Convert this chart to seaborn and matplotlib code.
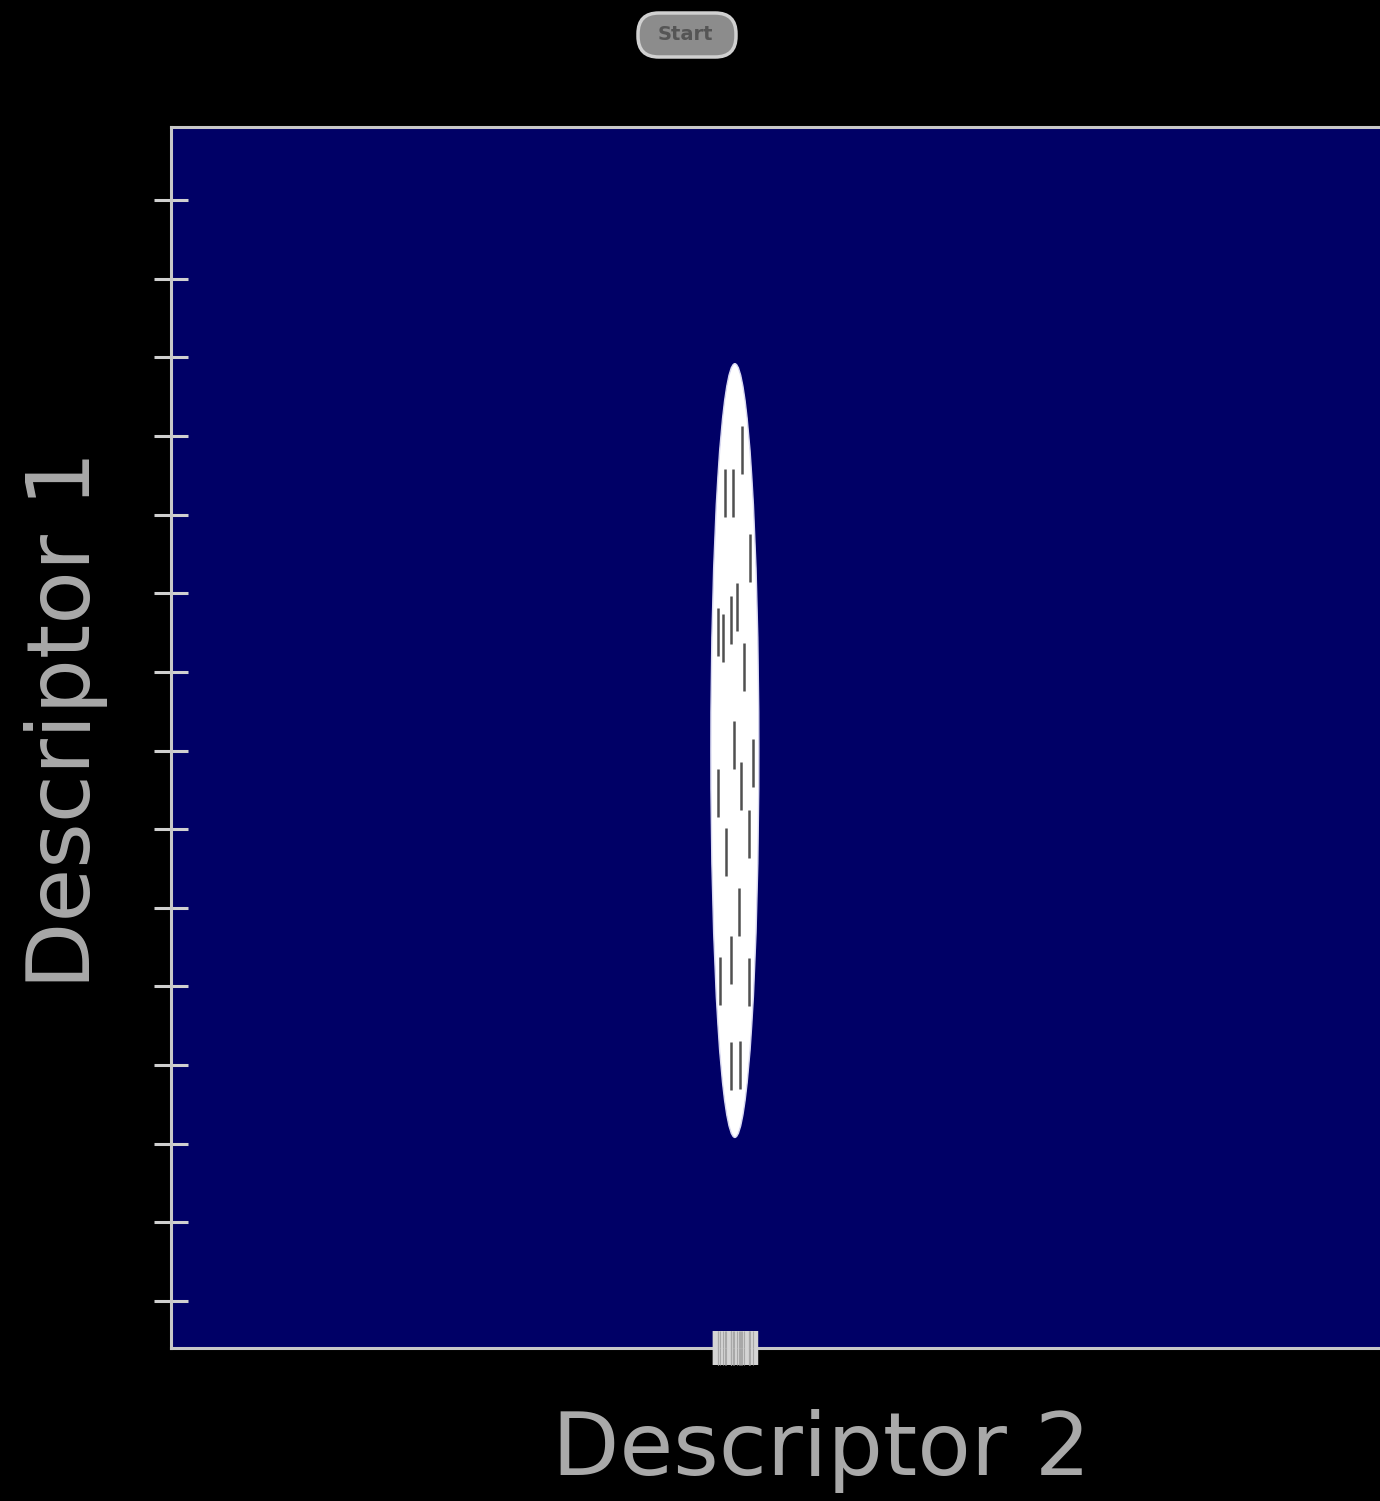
import numpy as np
import pandas as pd
import matplotlib.pyplot as plt
import seaborn as sns
from matplotlib.patches import Ellipse, FancyBboxPatch

# Data (y in tick units, x on the same scale)
desc2 = [7.26, 7.04, 7.15, 7.36, 7.20, 7.12, 6.96, 7.02, 7.29, 7.16, 7.40,
         7.25, 6.96, 7.35, 7.06, 7.22, 7.12, 6.98, 7.35, 7.12, 7.24]
desc1 = [10.82, 10.27, 10.27, 9.45, 8.82, 8.66, 8.51, 8.43, 8.06, 7.07, 6.84,
         6.55, 6.46, 5.94, 5.71, 4.95, 4.34, 4.07, 4.06, 2.99, 3.00]
y_ticks = list(range(15))
ellipse_center = [7.17, 7.0]
ellipse_size = [0.61, 9.84]

df = pd.DataFrame({"Descriptor 2": desc2, "Descriptor 1": desc1})

sns.set_style("dark")
plt.rcParams['font.family'] = ['DejaVu Sans']

fig = plt.figure(figsize=(13.8, 15.01), dpi=100, facecolor="black")
W, H = 1380, 1501
# axes runs past the right edge of the picture (cropped view)
ax = fig.add_axes([171 / W, 1 - 1348 / H, (1471 - 171) / W, (1348 - 127) / H])
ax.set_facecolor("#000066")

# white spread ellipse behind the points
ell = Ellipse(ellipse_center, ellipse_size[0], ellipse_size[1],
              facecolor="white", edgecolor="#d8d8f0", linewidth=1, zorder=1)
ax.add_patch(ell)

# points drawn as short vertical dashes
sns.scatterplot(data=df, x="Descriptor 2", y="Descriptor 1", marker="|",
                s=1150, linewidth=1.8, color="#505050", ax=ax, zorder=2,
                legend=False)

# rug on the x axis, crossing the bottom spine
for h in (0.014, -0.014):
    sns.rugplot(data=df, x="Descriptor 2", height=h, ax=ax, color="#d4d4d4",
                linewidth=7.5, expand_margins=False, clip_on=False, zorder=5)
for h in (0.014, -0.014):
    sns.rugplot(data=df, x="Descriptor 2", height=h, ax=ax, color="#a8a8a8",
                linewidth=0.8, expand_margins=False, clip_on=False, zorder=6)

ax.set_xlim(0, (1471 - 171) / 78.64)
ax.set_ylim(-0.598, 14.93)
ax.set_yticks(y_ticks)
ax.set_yticklabels([])
ax.set_xticks([])
ax.grid(False)
ax.tick_params(axis="y", direction="inout", length=24, width=2.2,
               color="#d0d0d0", left=True)
for side in ("left", "top", "bottom", "right"):
    ax.spines[side].set_visible(True)
    ax.spines[side].set_color("#c8c8c8")
    ax.spines[side].set_linewidth(2.2)

ax.set_xlabel("Descriptor 2", fontsize=63, color="#a9a9a9")
ax.set_ylabel("Descriptor 1", fontsize=63, color="#a9a9a9")
ax.xaxis.set_label_coords((821 - 171) / 1300, -(1409 - 1348) / 1221)
ax.yaxis.set_label_coords(-(171 - 108) / 1300, (1348 - 720) / 1221)
ax.xaxis.label.set_va("top")
ax.yaxis.label.set_va("bottom")

# Start button
btn = FancyBboxPatch((638 / W, 1 - 57 / H), 98 / W, 44 / H,
                     boxstyle="round,pad=0,rounding_size=0.015",
                     transform=fig.transFigure, facecolor="#8c8c8c",
                     edgecolor="#d0d0d0", linewidth=2.5, mutation_aspect=W / H)
fig.patches.append(btn)
fig.text(685 / W, 1 - 35 / H, "Start", ha="center", va="center",
         fontsize=14, fontweight="bold", color="#555555")

plt.savefig("out.png", dpi=100, facecolor="black")
